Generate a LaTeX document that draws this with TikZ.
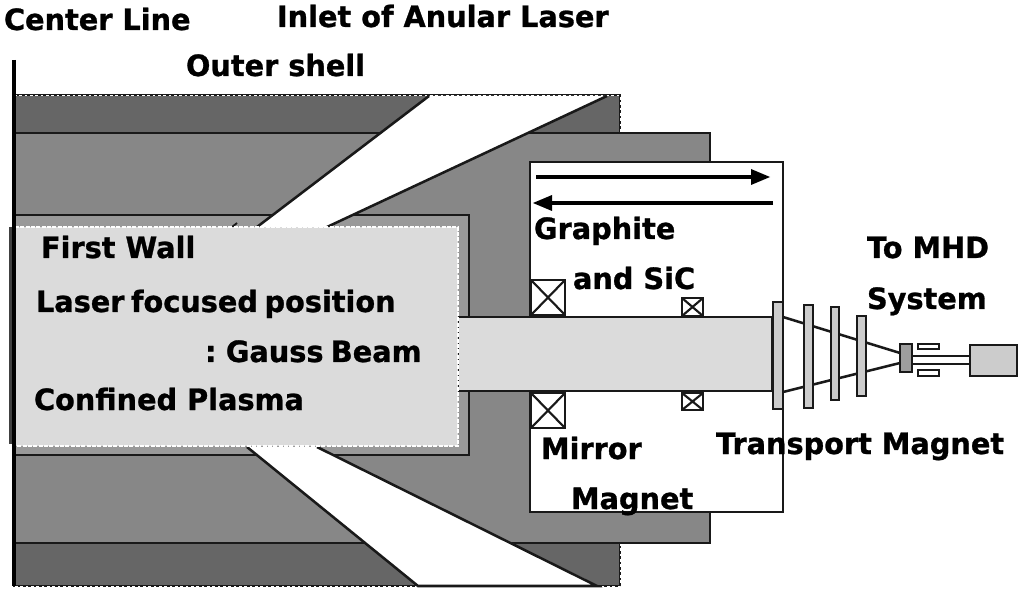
\documentclass[tikz,border=0pt]{standalone}
\usepackage{fontspec}
\setmainfont{DejaVu Sans Bold}[FakeStretch=0.98,FakeBold=0.9]
\definecolor{darkshell}{gray}{0.40}
\definecolor{midgray}{gray}{0.53}
\definecolor{wallgray}{gray}{0.60}
\definecolor{plasma}{gray}{0.86}
\definecolor{platefill}{gray}{0.80}
\definecolor{blockfill}{gray}{0.62}
\tikzset{
  part/.style={draw=black!90,line width=1.9pt},
  thinpart/.style={draw=black!90,line width=1.4pt},
  dashedge/.style={draw=white,line width=0.6pt,dash pattern=on 2pt off 2pt},
  lab/.style={anchor=base west,inner sep=0pt,outer sep=0pt,font=\fontsize{22}{26}\selectfont},
  coilbox/.style={draw=black!90,line width=1.9pt,fill=white},
  plate/.style={draw=black!90,line width=1.7pt,fill=platefill},
}
\begin{document}
\begin{tikzpicture}[x=0.75pt,y=-0.75pt]
\useasboundingbox (0,0) rectangle (1024,591);
\fill[white] (0,0) rectangle (1024,591);
% outer shell
\draw[draw=black!90,fill=darkshell,line width=1.2pt] (14,95) rectangle (620,586);
\draw[dashedge] (14,95) -- (620,95) -- (620,133);
\draw[dashedge] (620,543) -- (620,586) -- (14,586);
% blanket
\draw[part,fill=midgray] (14,133) rectangle (710,543);
% first wall ring
\draw[part,fill=wallgray] (14,215) rectangle (469,455);
% laser channels
\fill[white] (429,96) -- (607,96) -- (327,227) -- (257,227) -- cycle;
\draw[part] (429,96) -- (257,227) (607,96) -- (327,227);
\fill[white] (247,447) -- (317,447) -- (597,585) -- (418,585) -- cycle;
\draw[part] (247,447) -- (418,586) -- (597,586) -- (317,447);
\draw[thinpart] (232,227) -- (237,223);
% white box
\draw[part,fill=white] (530,162) rectangle (783,512);
% tube
\draw[part,fill=plasma] (458,317) rectangle (772,391);
% plasma
\draw[draw=black!75,line width=2pt] (10.5,227) -- (10.5,444);
\fill[plasma] (15,227) rectangle (458,446);
\draw[white,line width=0.9pt,dash pattern=on 3pt off 1pt] (15,227) -- (458,227) -- (458,446) -- (15,446);
% center line
\draw[black,line width=3pt] (13.5,60) -- (13.5,586);
% arrows
\draw[black,line width=3pt] (536,177) -- (755,177);
\fill[black] (770,177) -- (751,169) -- (751,185) -- cycle;
\draw[black,line width=3pt] (773,203) -- (548,203);
\fill[black] (533,203) -- (552,195) -- (552,211) -- cycle;
% coils
\foreach \a/\b/\c/\d in {531/280/565/315,531/393/565/428,682/298/703/316,682/393/703/410}{
  \draw[coilbox] (\a,\b) rectangle (\c,\d);
  \draw[black!90,line width=1.6pt] (\a,\b) -- (\c,\d) (\a,\d) -- (\c,\b);
}
% beam lines
\draw[part] (783,317) -- (900,353);
\draw[part] (783,392) -- (900,363);
% transport plates
\draw[plate] (773,302) rectangle (783,409);
\draw[plate] (804,305) rectangle (813,408);
\draw[plate] (831,307) rectangle (839,400);
\draw[plate] (857,316) rectangle (866,396);
\draw[plate,fill=blockfill] (900,344) rectangle (912,372);
\draw[thinpart,fill=white] (918,344) rectangle (939,349);
\draw[thinpart,fill=white] (918,370) rectangle (939,376);
\draw[part] (912,356) -- (970,356) (912,364) -- (970,364);
\draw[part,fill=platefill] (970,345) rectangle (1017,376);
% labels
\node[lab] (t1) at (4,30) {Center Line};
\node[lab] (t2) at (277,27) {Inlet of Anular Laser};
\node[lab] (t3) at (186,76) {Outer shell};
\node[lab] (t4) at (41,258) {First Wall};
\node[lab] (t5) at (36,312) {Laser\hspace{-2.6pt} focused\hspace{-2.6pt} position};
\node[lab] (t6) at (205,362) {:\hspace{-3pt} Gauss\hspace{-2pt} Beam};
\node[lab] (t7) at (34,410) {Confined Plasma};
\node[lab] (t8) at (534,239) {Graphite};
\node[lab] (t9) at (573,289) {and SiC};
\node[lab] (t10) at (867,258) {To MHD};
\node[lab] (t11) at (867,309) {System};
\node[lab] (t12) at (541,459) {Mirror};
\node[lab] (t13) at (571,509) {Magnet};
\node[lab] (t14) at (716,454) {Transport Magnet};
\end{tikzpicture}
\end{document}
